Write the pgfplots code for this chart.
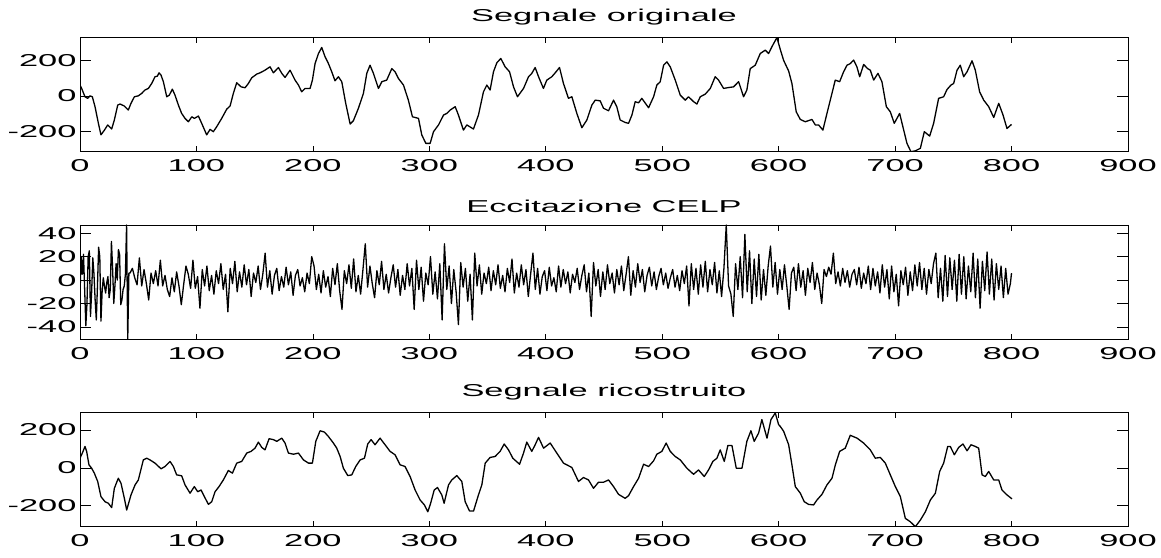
\documentclass[border=0pt]{standalone}
\usepackage{fontspec}
\newfontfamily\mfont[FakeStretch=2.0]{Liberation Sans}
\usepackage{pgfplots}
\pgfplotsset{compat=1.18}
\pgfplotsset{
  matlab/.style={
    scale only axis, width=1048pt, height=114.3pt,
    xmin=0, xmax=900, xtick={0,100,...,900},
    tick align=inside,
    major tick length=10.7pt,
    xtick style={/pgfplots/major tick length=5.7pt},
    every tick/.append style={black, line width=0.6pt},
    axis line style={line width=0.9pt},
    tick label style={font=\fontsize{17.2}{20}\selectfont\mfont},
    /pgf/number format/assume math mode=true,
    xticklabel style={yshift=-4.6pt},
    title style={font=\fontsize{17.2}{20}\selectfont\mfont, yshift=3pt},
    anchor=south west,
    clip=true,
  },
  sig/.style={black, mark=none, line width=1.3pt, line join=round},
}
\begin{document}
\begin{tikzpicture}
\useasboundingbox (0,0) rectangle (1161pt,557pt);
% ---------- top ----------
\begin{axis}[matlab, at={(80pt,405.3pt)}, ymin=-315, ymax=330, ytick={-200,0,200},
  title={Segnale originale}]
\addplot[sig] coordinates {(0,61)(1.4,42)(4.3,-5)(6.6,-14)(8.6,0)(10.6,-5)(12.9,-61)(15.8,-155)(18,-220)(21,-193)(23.8,-164)(27.2,-187)(29.5,-136)(32.4,-52)(34.4,-46)(38,-57)(41.5,-80)(43.8,-42)(46.7,-5)(50,0)(53,14)(55.8,33)(58.7,42)(61.6,70)(64.4,108)(66.4,111)(67.9,130)(69.6,117)(71.6,80)(74.5,-5)(76.7,4)(79.3,38)(81.6,4)(84.5,-52)(87.3,-99)(90.2,-127)(93.1,-146)(96,-118)(98.2,-127)(101.7,-114)(104.5,-155)(108.8,-220)(111.7,-189)(114.5,-202)(117.4,-174)(121.7,-127)(126,-75)(128.9,-57)(131.7,14)(134.6,74)(138.3,51)(141.8,46)(144.6,70)(147.5,102)(151.8,123)(154.6,130)(158.9,145)(163.2,164)(166.1,130)(170.4,160)(173.3,127)(176.1,104)(180.4,145)(184.7,89)(187.6,61)(190.4,23)(193.3,42)(197.6,42)(199.6,89)(201.9,183)(204.8,239)(207.6,273)(210.5,220)(213.3,183)(216.2,136)(219,85)(221.9,108)(224.8,80)(228.2,-42)(232,-159)(234.8,-140)(239.1,-70)(243.4,14)(246.3,127)(249.1,173)(252,127)(256.3,42)(259.2,80)(263.4,89)(267.8,154)(270.6,136)(273.5,98)(277.8,61)(282,-24)(285.5,-118)(290.7,-127)(293.5,-220)(297,-268)(300.7,-268)(303.6,-202)(307.9,-164)(312.2,-108)(315,-99)(317.9,-80)(322.2,-61)(325,-108)(329.3,-193)(332.2,-164)(337.9,-187)(342.2,-108)(346.5,23)(349.4,61)(352.2,33)(355.1,136)(358,187)(361.4,211)(365.1,164)(368.9,136)(372.3,51)(375.7,-5)(380.9,42)(385.2,108)(388,127)(390.9,160)(393.8,108)(398,42)(400.9,89)(405.2,108)(408.1,130)(411.8,160)(415.2,70)(419.5,-14)(422.4,-5)(426.7,-99)(431,-180)(435.3,-136)(439.6,-52)(442.5,-24)(446.7,-28)(449.6,-70)(453.9,-84)(458.2,-24)(461,-61)(463.9,-136)(468.2,-150)(471.1,-155)(474,-108)(476.8,-33)(479.7,-39)(482.5,-14)(488.3,-67)(492.6,-5)(495.4,61)(498.3,80)(501.2,173)(504,192)(506.9,164)(511.2,89)(515.5,4)(519.8,-24)(522.6,-5)(527,-33)(529.8,-46)(532.7,-5)(537,10)(541.3,42)(545.5,108)(548.4,89)(552.7,42)(557,47)(561.3,51)(565.6,80)(569.9,-5)(572.7,33)(575.6,154)(579.9,173)(584.2,239)(588.5,258)(591.4,239)(594.2,277)(598.5,329)(601.4,262)(604.3,200)(608.6,140)(611.4,70)(615.1,-90)(618.6,-133)(622.9,-146)(628.6,-133)(631.5,-164)(634.3,-164)(638,-193)(641.5,-99)(645.8,14)(648.6,89)(652.4,80)(655.8,136)(658.7,173)(661.5,182)(664.4,202)(667.2,164)(669.6,108)(673,177)(676.4,154)(678.7,145)(681.6,89)(685.3,127)(688.7,80)(692.5,-61)(695.9,-90)(699.3,-155)(703.9,-99)(707.4,-193)(710.2,-268)(713.6,-315)(717.4,-310)(721.7,-296)(725.1,-202)(729.7,-227)(733.1,-155)(737.4,-14)(741.7,-5)(744.6,36)(748,61)(750.3,70)(753.2,145)(756,173)(758.9,108)(761.8,136)(766.1,198)(768.9,145)(772.6,23)(776.1,-24)(780.4,-61)(784.7,-122)(789,-42)(792.7,-108)(796.1,-184)(800,-161)};
\end{axis}
% ---------- middle ----------
\begin{axis}[matlab, at={(80pt,217.7pt)}, ymin=-50.5, ymax=47, ytick={-40,-20,0,20,40},
  title={Eccitazione CELP}]
\addplot[sig] coordinates {(0,-12)(1,20)(2,5)(3,22)(4,-8)(5,-39)(6,-20)(7,20)(8,25)(9,-31)(10,-10)(11,19)(12,5)(13,-17)(14,-34)(15,-5)(16,28)(17,20)(18,-35)(19,-10)(20,2)(21,-5)(22,-11)(23,-2)(24,3)(25,-15)(26,-8)(27,33)(28,10)(29,-20)(30,-5)(31,14)(32,0)(33,26)(34,22)(35,-21)(36,-17)(37,-8)(38,-5)(39,5)(40,47)(41,-50.5)(42,6)
(43,6)(45,10)(47,2)(49,-4)(51,19)(53,-5)(55,9)(57,-3)(59,-17)(61,6)(63,-3)(65,8)(67,-5)(69,17)(71,-5)(73,4)(75,-8)(77,-14)(79,2)(81,-10)(83,7)(85,-5)(87,-21)(89,-4)(91,12)(93,5)(95,-7)(97,17)(99,-7)(101,3)(103,-24)(105,9)(107,-5)(109,12)(111,-9)(113,4)(115,-12)(117,8)(119,-3)(121,14)(123,-8)(125,5)(127,-27)(129,10)(131,-3)(133,16)(135,-10)(137,7)(139,-6)(141,13)(143,-4)(145,9)(147,-14)(149,6)(151,-2)(153,12)(155,-8)(157,5)(159,23)(161,-6)(163,8)(165,-12)(167,4)(169,10)(171,-9)(173,3)(175,-6)(177,11)(179,-4)(181,7)(183,-13)(185,4)(187,9)(189,-5)(191,2)(193,-10)(195,6)(197,-3)(199,20)(201,12)(203,-8)(205,5)(207,-11)(209,8)(211,-6)(213,3)(215,-14)(217,10)(219,-4)(221,14)(223,-9)(225,-25)(227,8)(229,-3)(231,13)(233,-7)(235,18)(237,-10)(239,4)(241,-12)(243,9)(245,31)(247,-6)(249,12)(251,-3)(253,-15)(255,8)(257,-4)(259,16)(261,-8)(263,5)(265,-11)(267,2)(269,13)(271,-6)(273,9)(275,-13)(277,4)(279,-8)(281,14)(283,-5)(285,10)(287,-25)(289,17)(291,-8)(293,11)(295,-18)(297,6)(299,-4)
(301,20)(303,-12)(305,7)(307,-16)(309,14)(311,-34)(313,31)(315,-8)(317,12)(319,-20)(321,9)(323,-10)(325,-38)(327,15)(329,-6)(331,10)(333,-18)(335,5)(337,-34)(339,23)(341,-5)(343,13)(345,-12)(347,6)(349,-3)(351,11)(353,-9)(355,8)(357,-4)(359,13)(361,-7)(363,4)(365,-10)(367,10)(369,-2)(371,18)(373,-11)(375,6)(377,-6)(379,13)(381,-4)(383,9)(385,-14)(387,5)(389,23)(391,-8)(393,10)(395,-12)(397,3)(399,8)(401,-9)(403,11)(405,-5)(407,2)(409,-10)(411,12)(413,-6)(415,9)(417,-3)(419,7)(421,-11)(423,5)(425,-2)(427,10)(429,-8)(431,4)(433,13)(435,-10)(437,6)(439,-31)(441,15)(443,-5)(445,9)(447,-14)(449,7)(451,-8)(453,13)(455,-3)(457,6)(459,-11)(461,9)(463,-4)(465,12)(467,-9)(469,5)(471,20)(473,-13)(475,8)(477,-6)(479,14)(481,-2)(483,9)(485,-10)(487,4)(489,11)(491,-5)(493,7)(495,-8)(497,3)(499,10)(501,-4)(503,6)(505,-7)(507,2)(509,9)(511,-6)(513,4)(515,-9)(517,8)(519,-3)(521,12)(523,-22)(525,14)(527,-8)(529,10)(531,-12)(533,13)(535,-6)(537,16)(539,-10)(541,9)(543,-4)(545,15)(547,-11)(549,8)(551,-14)(553,10)(555,47)(557,-5)(559,-12)(561,-31)(563,14)(565,-8)(567,20)(569,-15)(571,39)(573,-10)(575,25)(577,-20)(579,18)(581,-14)(583,22)(585,-17)(587,9)(589,-13)(591,12)(593,29)(595,-6)(597,15)(599,-12)
(601,9)(603,-8)(605,13)(607,-5)(609,-25)(611,6)(613,11)(615,-9)(617,14)(619,-6)(621,8)(623,-13)(625,10)(627,-2)(629,15)(631,-8)(633,6)(635,-4)(637,-20)(639,9)(641,3)(643,11)(645,5)(647,23)(649,-3)(651,7)(653,-5)(655,10)(657,-2)(659,8)(661,-6)(663,5)(665,9)(667,-4)(669,11)(671,-7)(673,6)(675,-3)(677,12)(679,-8)(681,10)(683,-5)(685,7)(687,-11)(689,13)(691,-6)(693,9)(695,-16)(697,12)(699,-10)(701,5)(703,-22)(705,8)(707,-4)(709,11)(711,-13)(713,7)(715,-9)(717,13)(719,-5)(721,15)(723,-8)(725,10)(727,-12)(729,9)(731,-3)(733,14)(735,23)(737,-15)(739,10)(741,-18)(743,21)(745,-14)(747,19)(749,-8)(751,17)(753,-18)(755,22)(757,-12)(759,20)(761,-16)(763,12)(765,-10)(767,23)(769,-15)(771,18)(773,-24)(775,16)(777,-9)(779,24)(781,-12)(783,18)(785,-17)(787,14)(789,-8)(791,12)(793,-15)(795,10)(797,-12)(799,-3)(800,6)};
\end{axis}
% ---------- bottom ----------
\begin{axis}[matlab, at={(80pt,30.3pt)}, ymin=-311, ymax=293, ytick={-200,0,200},
  title={Segnale ricostruito}]
\addplot[sig] coordinates {(0,51)(2,78)(4.3,113)(5.7,87)(7.7,16)(10,-2)(12.3,-28)(15.2,-72)(18,-152)(21.5,-179)(24.3,-187)(27.2,-210)(29.5,-108)(32.9,-55)(35.2,-81)(38.1,-161)(40.1,-223)(43.8,-143)(47.3,-90)(50.1,-64)(54.4,42)(57.3,51)(60.1,42)(64.4,25)(69.6,-5)(73,7)(77.3,34)(80.2,7)(83,-37)(87.3,-42)(90.2,-90)(94.5,-134)(98.2,-99)(101.1,-126)(104,-117)(106.8,-152)(110.3,-193)(113.1,-179)(116,-126)(119.4,-99)(123.1,-64)(127.4,-14)(130.9,-28)(134.6,25)(138.9,34)(143.2,78)(146.9,87)(150.3,104)(153.2,136)(156.1,108)(158.9,95)(162.4,154)(166.1,149)(169,140)(173.3,157)(176.1,131)(179,78)(183.3,72)(187.6,78)(191.9,42)(196.2,25)(199.6,25)(202.5,140)(206.2,196)(209.9,189)(213.3,166)(217.6,131)(220.5,104)(223.4,60)(226.2,-2)(230,-41)(233.4,-37)(236.8,7)(240.6,42)(244.3,51)(247.1,126)(250,149)(253.4,122)(257.7,157)(262,122)(266.3,87)(270.6,69)(274.9,16)(279.2,7)(283.5,-46)(287.8,-117)(292.1,-170)(295.8,-196)(298.7,-232)(301,-190)(304.2,-117)(307,-104)(310.7,-143)(312.7,-187)(316.5,-90)(319.3,-64)(323.6,-41)(327.9,-72)(330.8,-179)(334.5,-228)(338,-228)(342.2,-143)(345.1,-90)(348,25)(352.2,55)(356.5,60)(360.8,87)(364.3,126)(368,95)(371.7,51)(377.5,19)(380.9,78)(383.7,136)(388,87)(390.9,122)(393.8,161)(398.1,104)(403.8,131)(409.5,78)(415.2,25)(422.4,2)(428.1,-72)(432.4,-51)(436.7,-64)(441,-108)(445.3,-76)(449.6,-76)(453.9,-64)(458.2,-99)(462.5,-140)(468.2,-161)(471.1,-147)(475.4,-99)(479.7,-55)(484,19)(488.3,7)(492.6,37)(495.4,72)(499.7,87)(503.4,131)(506.9,87)(511.2,60)(515.5,42)(521.2,-2)(526.9,-34)(531.2,-11)(536.1,-46)(539.8,-11)(543.5,34)(547,51)(549.8,95)(553.3,34)(556.4,118)(559.9,118)(563.6,-2)(568.5,-2)(572.7,140)(576.2,196)(579,140)(582.8,184)(585.6,255)(590,157)(593.4,255)(597.1,290)(600,228)(601.4,219)(604.3,193)(608.6,122)(611.4,16)(614.3,-99)(618.6,-134)(622,-179)(625.7,-193)(630,-196)(632.9,-170)(637.2,-140)(641.5,-90)(645.8,-55)(648.7,16)(652.4,87)(657.2,104)(661.5,172)(667.3,157)(673,131)(678.7,95)(683,51)(687.3,55)(691.6,25)(695.9,-37)(700.2,-99)(704.5,-152)(708.8,-267)(713.1,-285)(717.4,-311)(721.7,-276)(726,-232)(730.3,-170)(734.6,-134)(738.3,-19)(741.7,25)(745.2,113)(747.4,113)(750.9,69)(754.6,108)(758.3,126)(761.8,90)(765.2,122)(768.9,113)(771.8,104)(774.7,-37)(777.5,-46)(780.4,-19)(784.7,-64)(789,-64)(791.8,-117)(796.1,-143)(800.4,-164)};
\end{axis}
\end{tikzpicture}
\end{document}
